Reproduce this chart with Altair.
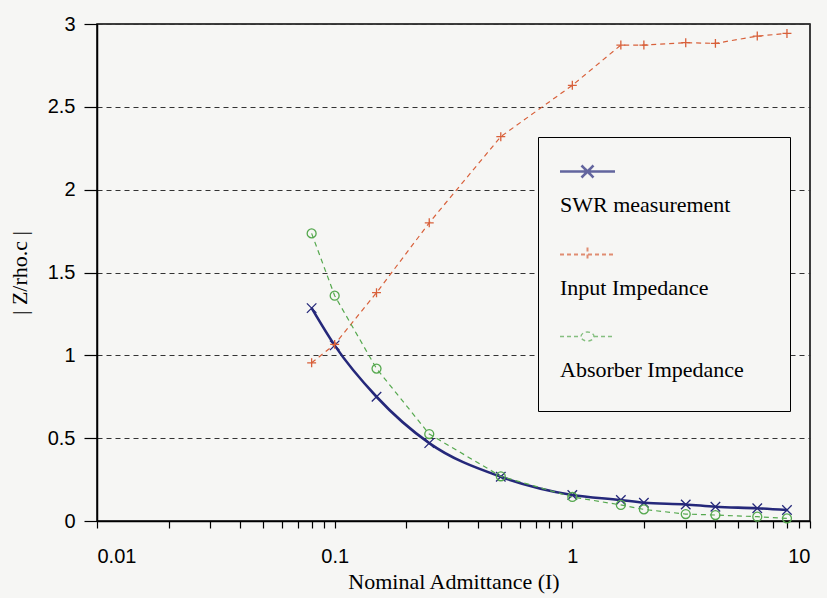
import altair as alt
import pandas as pd

# ---- data ----
admittance = [0.08, 0.1, 0.15, 0.25, 0.5, 1, 1.6, 2, 3, 4, 6, 8]
swr = [1.285, 1.06, 0.75, 0.47, 0.267, 0.157, 0.127, 0.11, 0.10, 0.086, 0.077, 0.066]
input_imp = [0.955, 1.066, 1.378, 1.80, 2.32, 2.63, 2.873, 2.873, 2.887, 2.883, 2.927, 2.943]
absorber = [1.736, 1.36, 0.92, 0.525, 0.27, 0.145, 0.097, 0.07, 0.042, 0.036, 0.026, 0.016]

series_names = ["SWR measurement", "Input Impedance", "Absorber Impedance"]
colors = ["#25287a", "#d8603a", "#55a84e"]

x_tick_values = [0.01, 0.02, 0.03, 0.04, 0.05, 0.06, 0.07, 0.08, 0.09,
                 0.1, 0.2, 0.3, 0.4, 0.5, 0.6, 0.7, 0.8, 0.9,
                 1, 2, 3, 4, 5, 6, 7, 8, 9, 10]
y_tick_values = [0, 0.5, 1, 1.5, 2, 2.5, 3]

rows = []
for name, vals in zip(series_names, [swr, input_imp, absorber]):
    for a, v in zip(admittance, vals):
        rows.append({"admittance": a, "z": v, "series": name})
df = pd.DataFrame(rows)

BG = "#f6f6f4"

x_enc = alt.X(
    "admittance:Q",
    scale=alt.Scale(type="log", domain=[0.01, 10]),
    axis=alt.Axis(
        title="Nominal Admittance (I)",
        values=x_tick_values,
        labelExpr="datum.value == 0.01 ? '0.01' : datum.value == 0.1 ? '0.1' : datum.value == 1 ? '1' : datum.value == 10 ? '10' : ''",
        labelOverlap=False,
        grid=False,
        tickSize=7,
        labelPadding=18,
        titlePadding=5,
    ),
)
y_enc = alt.Y(
    "z:Q",
    scale=alt.Scale(domain=[0, 3], nice=False),
    axis=alt.Axis(
        title="| Z/rho.c |",
        values=y_tick_values,
        format="~g",
        grid=True,
        gridDash=[5, 4],
        gridColor="#333333",
        gridWidth=1,
        tickSize=13,
        labelPadding=9,
        titlePadding=16,
    ),
)

X_PATH = "M-1,-1L1,1M-1,1L1,-1"
PLUS_PATH = "M-1,0H1M0,-1V1"

base = alt.Chart(df)


def series_layers(name, color, shape, size, line_kwargs):
    d = base.transform_filter(alt.datum.series == name)
    line = d.mark_line(color=color, **line_kwargs).encode(x=x_enc, y=y_enc)
    pts = d.mark_point(shape=shape, color=color, size=size, filled=False,
                       strokeWidth=1.3, opacity=1).encode(x=x_enc, y=y_enc)
    return [line, pts]


layers = []
layers += series_layers("SWR measurement", colors[0], X_PATH, 90,
                        dict(strokeWidth=2.6, interpolate="monotone"))
layers += series_layers("Input Impedance", colors[1], PLUS_PATH, 80,
                        dict(strokeWidth=1.2, strokeDash=[5, 4]))
layers += series_layers("Absorber Impedance", colors[2], "circle", 80,
                        dict(strokeWidth=1.2, strokeDash=[5, 4]))

# ---- legend symbol geometry (pixels relative to the symbol centre) ----
SYM_SIZE = 100
S = (SYM_SIZE ** 0.5) / 2.0          # pixels per path unit
LINE_X0, LINE_X1, LINE_Y = 11, 66, -33.5
MX = (LINE_X0 + LINE_X1) / 2.0
EXT_X, EXT_Y = 235, 38               # invisible extent of the legend box


def u(v):
    return f"{v / S:.3f}"


line_full = f"M{u(LINE_X0)},{u(LINE_Y)}H{u(LINE_X1)}"
top_ext = f"M{u(MX)},{u(LINE_Y - 7)}"
right_ext = f"M{u(EXT_X)},{u(LINE_Y)}"
bottom_ext = f"M{u(EXT_X)},{u(EXT_Y)}"
sym_swr = (line_full + f"M{u(MX - 6)},{u(LINE_Y - 6)}L{u(MX + 6)},{u(LINE_Y + 6)}"
           f"M{u(MX - 6)},{u(LINE_Y + 6)}L{u(MX + 6)},{u(LINE_Y - 6)}" + top_ext + right_ext)
sym_inp = line_full + f"M{u(MX)},{u(LINE_Y - 7)}V{u(LINE_Y + 7)}" + right_ext
rx, ry = 6.5, 4.5
sym_abs = (f"M{u(LINE_X0)},{u(LINE_Y)}H{u(MX - rx)}"
           f"A{u(rx)},{u(ry)} 0 1 1 {u(MX + rx)},{u(LINE_Y)}"
           f"A{u(rx)},{u(ry)} 0 1 1 {u(MX - rx)},{u(LINE_Y)}"
           f"M{u(MX + rx)},{u(LINE_Y)}H{u(LINE_X1)}" + top_ext + bottom_ext)
legend_paths = [sym_swr, sym_inp, sym_abs]

leg = alt.Legend(
    title="\u00a0",
    titleFontSize=10,
    titlePadding=47,
    orient="none",
    legendX=441,
    legendY=113,
    direction="vertical",
    fillColor=BG,
    strokeColor="black",
    padding=0,
    rowPadding=27,
    symbolSize=SYM_SIZE,
    labelOffset=0,
    labelFont="Liberation Serif",
    labelFontSize=22,
    labelColor="black",
    labelLimit=400,
)
legend_layer = base.transform_filter("false").mark_point(
    filled=False, size=SYM_SIZE
).encode(
    x=x_enc,
    y=y_enc,
    color=alt.Color("series:N", scale=alt.Scale(domain=series_names, range=colors), legend=leg),
    shape=alt.Shape("series:N", scale=alt.Scale(domain=series_names, range=legend_paths), legend=leg),
    strokeDash=alt.StrokeDash("series:N", scale=alt.Scale(domain=series_names, range=[[1, 0], [4, 3], [4, 3]]), legend=leg),
    strokeWidth=alt.StrokeWidth("series:N", scale=alt.Scale(domain=series_names, range=[2.6, 1.4, 1.4]), legend=leg),
)
layers.append(legend_layer)

chart = alt.layer(*layers).properties(
    width=713,
    height=497,
    autosize=alt.AutoSizeParams(type="none"),
    padding={"left": 97, "top": 24, "right": 17, "bottom": 77},
    background=BG,
).configure_view(
    stroke="black", strokeWidth=1.5, fill=BG
).configure_axis(
    domainColor="black",
    domainWidth=1.5,
    tickColor="black",
    tickWidth=1.2,
    labelFont="Liberation Sans",
    labelFontSize=20,
    labelColor="black",
    titleFont="Liberation Serif",
    titleFontSize=22,
    titleFontWeight="normal",
    titleColor="black",
)

chart.save("out.html", embed_options={"renderer": "svg", "actions": False})
